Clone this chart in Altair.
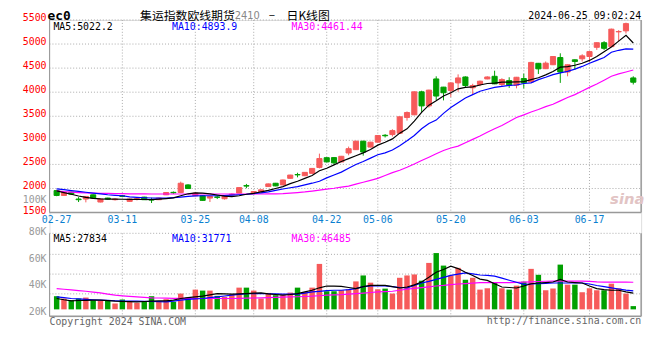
import altair as alt
import pandas as pd

# ---------------- values ----------------
DATE_LABELS = ["02-27", "03-11", "03-25", "04-08", "04-22", "05-06", "05-20", "06-03", "06-17"]
DATE_POS = [0, 9, 19, 27, 37, 44, 54, 64, 73]          # trading-day index of each label

OPEN = [1957, 1855, 1924, 1781, 1781, 1869, 1719, 1801, 1767, 1849,
        1732, 1776, 1821, 1770, 1767, 1869, 1920, 1917, 2074, 1849,
        1849, 1801, 1825, 1787, 1870, 1904, 2060, 1904, 1937, 2040,
        2109, 2074, 2211, 2290, 2265, 2314, 2437, 2640, 2642, 2552,
        2737, 2806, 2983, 2860, 2962, 3105, 3120, 3147, 3475, 3530,
        4008, 3715, 4275, 4105, 4037, 4193, 4316, 4091, 4160, 4275,
        4330, 4160, 4242, 4146, 4283, 4214, 4600, 4488, 4570, 4720,
        4419, 4673, 4693, 4741, 4932, 5028, 4946, 5253, 5274, 4296]
HIGH = [1972, 1937, 1930, 1821, 1840, 1876, 1790, 1808, 1795, 1863,
        1790, 1801, 1828, 1808, 1808, 1924, 1937, 2142, 2088, 1910,
        1856, 1842, 1849, 1840, 1900, 2025, 2095, 1944, 1979, 2102,
        2116, 2184, 2286, 2327, 2342, 2424, 2724, 2647, 2649, 2676,
        2870, 2990, 2990, 2969, 3107, 3130, 3230, 3496, 3600, 4015,
        4030, 4050, 4330, 4110, 4200, 4370, 4330, 4175, 4240, 4330,
        4446, 4290, 4310, 4317, 4385, 4630, 4607, 4638, 4748, 4808,
        4577, 4680, 4788, 4850, 5035, 5060, 5320, 5288, 5444, 4330]
LOW = [1840, 1849, 1870, 1719, 1712, 1794, 1712, 1775, 1750, 1821,
       1725, 1753, 1760, 1699, 1760, 1863, 1890, 1904, 1990, 1840,
       1746, 1719, 1781, 1770, 1849, 1897, 2006, 1897, 1930, 2033,
       2047, 2067, 2204, 2232, 2258, 2307, 2417, 2545, 2500, 2545,
       2690, 2799, 2682, 2853, 2955, 3060, 3080, 3140, 3410, 3523,
       3590, 3680, 3830, 3830, 3900, 4010, 4090, 3955, 4125, 4268,
       4166, 4125, 4090, 4080, 4080, 4207, 4378, 4480, 4563, 4193,
       4330, 4468, 4638, 4624, 4878, 4878, 4940, 5062, 5219, 4160]
CLOSE = [1855, 1924, 1883, 1767, 1835, 1801, 1781, 1781, 1781, 1835,
         1781, 1787, 1767, 1760, 1801, 1917, 1910, 2109, 1999, 1904,
         1753, 1835, 1815, 1835, 1883, 2019, 2050, 1937, 1972, 2095,
         2054, 2177, 2279, 2283, 2335, 2417, 2622, 2552, 2532, 2669,
         2827, 2983, 2757, 2962, 3100, 3095, 3202, 3489, 3578, 4008,
         3715, 4043, 3920, 3988, 4193, 4296, 4139, 4139, 4228, 4316,
         4173, 4262, 4146, 4310, 4193, 4618, 4485, 4603, 4741, 4419,
         4570, 4638, 4755, 4843, 5028, 4911, 5309, 5260, 5424, 4207]
# volume, thousand lots
VOLUME = [22.6, 18.6, 15.8, 18.6, 20.3, 15.8, 14.7, 15.8, 10.2, 16.9,
          13.0, 11.3, 13.0, 22.6, 13.0, 17.5, 13.0, 27.1, 20.3, 33.9,
          32.2, 32.2, 23.2, 21.5, 26.0, 37.3, 37.3, 32.2, 18.6, 28.2,
          24.3, 24.3, 28.8, 37.3, 29.9, 37.3, 78.0, 31.1, 31.1, 32.8,
          34.5, 48.0, 58.2, 45.8, 34.5, 35.6, 27.1, 54.2, 58.2, 59.9,
          49.2, 79.7, 96.6, 75.1, 58.2, 71.2, 50.8, 54.2, 33.9, 36.2,
          45.2, 36.2, 33.9, 40.7, 47.5, 69.5, 59.3, 32.8, 35.6, 76.8,
          42.4, 42.4, 29.4, 36.2, 32.8, 32.8, 44.1, 36.2, 27.1, 5.6]

# moving-average lines as drawn in the picture
MA5 = [1950, 1915, 1880, 1845, 1815, 1795, 1785, 1780, 1778, 1776,
       1775, 1773, 1771, 1770, 1778, 1790, 1805, 1850, 1890, 1910,
       1905, 1890, 1865, 1840, 1830, 1850, 1880, 1900, 1930, 1960,
       2000, 2040, 2100, 2150, 2210, 2270, 2370, 2420, 2490, 2560,
       2620, 2680, 2740, 2810, 2900, 2960, 3030, 3150, 3240, 3400,
       3580, 3730, 3820, 3920, 3990, 4070, 4100, 4110, 4150, 4180,
       4190, 4210, 4210, 4215, 4220, 4260, 4300, 4360, 4430, 4520,
       4530, 4560, 4600, 4660, 4740, 4840, 4940, 5060, 5180, 5022]
MA10 = [1992, 1975, 1957, 1940, 1922, 1905, 1890, 1870, 1858, 1849,
        1825, 1815, 1808, 1803, 1800, 1801, 1810, 1821, 1835, 1845,
        1850, 1850, 1850, 1855, 1863, 1870, 1880, 1895, 1910, 1930,
        1960, 1990, 2015, 2040, 2075, 2110, 2150, 2220, 2280, 2340,
        2420, 2500, 2560, 2630, 2700, 2740, 2800, 2890, 2990, 3100,
        3240, 3350, 3420, 3560, 3680, 3780, 3880, 3950, 4020, 4060,
        4100, 4120, 4140, 4150, 4180, 4193, 4260, 4310, 4365, 4400,
        4433, 4480, 4535, 4600, 4660, 4720, 4830, 4870, 4898, 4894]
MA30 = [1950, 1935, 1925, 1915, 1908, 1903, 1900, 1897, 1894, 1892,
        1890, 1888, 1887, 1886, 1885, 1885, 1885, 1885, 1885, 1885,
        1885, 1885, 1885, 1885, 1885, 1885, 1885, 1885, 1885, 1887,
        1890, 1895, 1905, 1915, 1928, 1945, 1965, 1986, 2005, 2030,
        2050, 2090, 2130, 2170, 2211, 2270, 2330, 2380, 2440, 2510,
        2580, 2650, 2720, 2790, 2840, 2880, 2950, 3020, 3090, 3168,
        3240, 3310, 3390, 3475, 3530, 3590, 3640, 3700, 3750, 3820,
        3890, 3950, 4023, 4100, 4170, 4250, 4330, 4380, 4420, 4461]
VMA5 = [18.6, 16.5, 14.7, 15.2, 15.5, 15.8, 15.8, 15.0, 14.0, 13.5,
        13.2, 13.0, 13.5, 14.0, 14.5, 14.7, 16.0, 18.6, 20.0, 21.5,
        22.6, 25.0, 27.1, 26.5, 26.0, 26.5, 27.1, 27.8, 28.2, 26.5,
        25.5, 24.3, 25.5, 27.1, 30.0, 32.8, 37.0, 40.1, 39.8, 39.5,
        37.5, 35.6, 39.0, 41.2, 41.2, 41.2, 39.0, 36.7, 38.4, 42.0,
        46.9, 55.0, 63.8, 68.4, 74.0, 70.0, 63.8, 58.0, 52.0, 49.7,
        44.0, 38.4, 37.5, 36.7, 40.0, 44.0, 45.2, 46.0, 46.9, 51.4,
        46.9, 46.0, 45.2, 40.0, 35.6, 34.0, 32.8, 32.8, 30.0, 27.8]
VMA10 = [21.5, 20.0, 18.6, 17.9, 17.2, 16.5, 15.8, 15.3, 14.8, 14.4,
         14.1, 14.1, 13.8, 13.5, 13.2, 13.0, 14.0, 15.8, 17.0, 18.0,
         18.6, 20.0, 21.5, 23.0, 24.3, 25.7, 27.1, 27.1, 27.1, 26.8,
         26.5, 26.3, 26.1, 26.0, 28.0, 29.9, 31.0, 32.2, 32.8, 32.8,
         34.0, 35.6, 39.0, 40.1, 40.1, 40.1, 39.0, 37.5, 36.7, 41.0,
         45.2, 48.0, 51.4, 55.0, 58.2, 60.5, 62.7, 61.0, 59.0, 58.2,
         57.1, 53.5, 50.0, 46.5, 42.9, 43.5, 44.1, 44.6, 45.2, 45.2,
         45.2, 45.2, 45.2, 43.5, 41.0, 39.0, 37.0, 35.0, 33.0, 31.8]
VMA30 = [35.6, 34.5, 33.3, 32.2, 31.1, 29.6, 28.2, 26.2, 24.3, 23.3,
         22.4, 21.5, 20.7, 19.8, 19.5, 19.3, 19.0, 18.8, 18.6, 18.6,
         18.6, 18.6, 18.6, 18.6, 18.6, 18.9, 19.2, 19.5, 19.8, 20.2,
         20.6, 20.9, 21.3, 21.7, 22.1, 22.6, 23.4, 24.3, 25.0, 25.4,
         26.3, 27.1, 28.0, 29.0, 29.9, 30.5, 31.1, 32.8, 34.5, 36.0,
         37.3, 38.7, 40.1, 41.2, 42.6, 43.5, 44.3, 45.0, 45.8, 45.8,
         45.8, 45.8, 45.8, 46.3, 46.9, 47.3, 47.8, 48.2, 48.6, 48.6,
         48.6, 48.6, 48.6, 48.0, 47.3, 46.9, 46.9, 46.9, 46.7, 46.5]

PRICE_TICKS = [1500, 2000, 2500, 3000, 3500, 4000, 4500, 5000, 5500]
PRICE_GRID = [2000, 2500, 3000, 3500, 4000, 4500, 5000]
VOL_TICK_LABELS = ["80K", "60K", "40K", "20K"]
VOL_TICK_VALUES = [80, 60, 40, 20]
VOL_GRID = [26.6, 60.5, 94.4]

PRICE_HEAD = ["MA5:5022.2", "MA10:4893.9", "MA30:4461.44"]
VOL_HEAD = ["MA5:27834", "MA10:31771", "MA30:46485"]
TITLE_PARTS = ["集运指数欧线期货", "2410", "–", "日K线图"]
CODE = "ec0"
STAMP = "2024-06-25 09:02:24"
FOOT_LEFT = "Copyright 2024 SINA.COM"
FOOT_RIGHT = "http://finance.sina.com.cn"

# ---------------- tables ----------------
n = len(CLOSE)
idx = list(range(n))
direction = ["up" if c >= o else "down" for o, c in zip(OPEN, CLOSE)]
candles = pd.DataFrame({"i": idx, "o": OPEN, "h": HIGH, "l": LOW, "c": CLOSE, "d": direction})
vols = pd.DataFrame({"i": idx, "v": VOLUME, "d": direction})
ma = pd.DataFrame({"i": idx, "ma5": MA5, "ma10": MA10, "ma30": MA30,
                   "vma5": VMA5, "vma10": VMA10, "vma30": VMA30})
dates = pd.DataFrame({"i": DATE_POS, "t": DATE_LABELS})
grid_dates = dates[dates["i"] > 0]

# ---------------- scales / styles ----------------
W, H = 599, 300
MONO = "DejaVu Sans Mono"
RED, GREEN = "#f65a5a", "#00a000"
GRID = "#aaaaaa"
BORDER = "#999999"

X = alt.Scale(domain=[-0.306, 79.4], nice=False, zero=False)
PY = alt.Scale(domain=[1500, 5500], range=[195, 0], nice=False, zero=False)
VY = alt.Scale(domain=[0, 130.5], range=[293, 216], nice=False)
LY = alt.Scale(domain=[20, 80], range=[295.6, 214.6], nice=False, zero=False)
col = alt.Color("d:N", scale=alt.Scale(domain=["up", "down"], range=[RED, GREEN]), legend=None)

def xq(field):
    return alt.X(field, type="quantitative", scale=X, axis=None)

def one(txt):
    return pd.DataFrame({"t": [txt]})

def label(txt, x, y, color, size=10, align="left", font=MONO, weight="normal",
          baseline="alphabetic", italic=False):
    return alt.Chart(one(txt)).mark_text(
        align=align, baseline=baseline, font=font, fontSize=size, color=color,
        fontWeight=weight, fontStyle="italic" if italic else "normal"
    ).encode(x=alt.value(x), y=alt.value(y), text="t:N")

def hline(y, color, dash=None, width=1):
    kw = dict(color=color, strokeWidth=width)
    if dash:
        kw["strokeDash"] = dash
    return alt.Chart(one("")).mark_rule(**kw).encode(x=alt.value(0), x2=alt.value(W), y=alt.value(y))

def vline(x, y1, y2, color, width=1):
    return alt.Chart(one("")).mark_rule(color=color, strokeWidth=width).encode(
        x=alt.value(x), y=alt.value(y1), y2=alt.value(y2))

layers = []

# grid lines
layers.append(alt.Chart(pd.DataFrame({"p": PRICE_GRID})).mark_rule(color=GRID, strokeDash=[1, 2]).encode(
    y=alt.Y("p:Q", scale=PY, axis=None), x=alt.value(0), x2=alt.value(W)))
layers.append(alt.Chart(grid_dates).mark_rule(color=GRID, strokeDash=[1, 2]).encode(
    x=xq("i"), y=alt.value(0), y2=alt.value(195)))
layers.append(alt.Chart(grid_dates).mark_rule(color=GRID, strokeDash=[1, 2]).encode(
    x=xq("i"), y=alt.value(216), y2=alt.value(303)))
layers.append(alt.Chart(pd.DataFrame({"g": VOL_GRID})).mark_rule(color=GRID, strokeDash=[1, 2]).encode(
    y=alt.Y("g:Q", scale=VY, axis=None), x=alt.value(0), x2=alt.value(W)))

# panel frames
layers += [hline(0, GRID, [1, 2]), hline(195, BORDER, width=1.5),
           vline(0, 0, 195, BORDER), vline(W, 0, 195, BORDER, 1.5),
           hline(216, GRID, [1, 2]), hline(300, BORDER, width=1.5),
           vline(0, 216, 300, BORDER), vline(W, 216, 300, BORDER, 1.5)]

# candles
layers.append(alt.Chart(candles).mark_rule(strokeWidth=1).encode(
    x=xq("i"), y=alt.Y("l:Q", scale=PY, axis=None), y2="h:Q", color=col))
layers.append(alt.Chart(candles).mark_bar(size=5.2, strokeWidth=1).encode(
    x=xq("i"), y=alt.Y("o:Q", scale=PY, axis=None), y2="c:Q", color=col, stroke=col))

# price moving averages
for fld, c in [("ma30", "#ff00ff"), ("ma10", "#0000ff"), ("ma5", "#000000")]:
    layers.append(alt.Chart(ma).mark_line(color=c, strokeWidth=1.2).encode(
        x=xq("i"), y=alt.Y(f"{fld}:Q", scale=PY, axis=None)))

# volume bars and averages
layers.append(alt.Chart(vols).mark_bar(size=5.5).encode(
    x=xq("i"), y=alt.Y("v:Q", scale=VY, axis=None), color=col))
for fld, c in [("vma30", "#ff00ff"), ("vma10", "#0000ff"), ("vma5", "#000000")]:
    layers.append(alt.Chart(ma).mark_line(color=c, strokeWidth=1.2).encode(
        x=xq("i"), y=alt.Y(f"{fld}:Q", scale=VY, axis=None)))

# axis labels
layers.append(alt.Chart(pd.DataFrame({"p": PRICE_TICKS})).mark_text(
    align="right", baseline="middle", font=MONO, fontSize=10, color="#ff0000", dy=-2).encode(
    y=alt.Y("p:Q", scale=PY, axis=None), x=alt.value(-3), text="p:Q"))
layers.append(alt.Chart(dates).mark_text(
    baseline="middle", font=MONO, fontSize=10, color="#0a7fd0").encode(
    x=xq("i"), y=alt.value(203), text="t:N"))
layers.append(alt.Chart(pd.DataFrame({"v": VOL_TICK_VALUES, "t": VOL_TICK_LABELS})).mark_text(
    align="right", baseline="middle", font=MONO, fontSize=10, color="#999999").encode(
    y=alt.Y("v:Q", scale=LY, axis=None), x=alt.value(-3), text="t:N"))
layers.append(label("100K", -3, 182.7, "#999999", align="right", baseline="middle"))

# headers inside panels
for txt, xx, c in zip(PRICE_HEAD, [4, 124, 245], ["#000000", "#0000ff", "#ff00ff"]):
    layers.append(label(txt, xx, 10.5, c))
for txt, xx, c in zip(VOL_HEAD, [4, 124, 245], ["#000000", "#0000ff", "#ff00ff"]):
    layers.append(label(txt, xx, 224.5, c))

# title line
CJK = "Noto Sans CJK SC"
layers.append(label(CODE, -2, 0, "#000000", size=13, weight="bold"))
layers.append(label(TITLE_PARTS[0], 91.7, 0.5, "#000000", size=12, font=CJK))
layers.append(label(TITLE_PARTS[1], 187.5, -0.5, "#888888", size=10, font="DejaVu Sans"))
layers.append(label(TITLE_PARTS[2], 222, -0.5, "#000000", size=12, font=CJK))
layers.append(label(TITLE_PARTS[3], 240, 0.5, "#000000", size=12, font=CJK))
layers.append(label(STAMP, W, -0.5, "#000000", align="right"))

# watermark and footer
layers.append(label("sina", 585, 186, "#e2c4c4", size=15, font="DejaVu Sans", weight="bold", italic=True, align="center"))
layers.append(label(FOOT_LEFT, 0, 309, "#666666", size=10))
layers.append(label(FOOT_RIGHT, W, 308, "#666666", size=10, align="right"))

chart = alt.layer(*layers).resolve_scale(y="independent").properties(
    width=W, height=H,
    autosize=alt.AutoSizeParams(type="none"),
    padding={"left": 42, "top": 10, "right": 11, "bottom": 30},
).configure_view(stroke=None).configure(background="white")

chart.save("out.html", embed_options={"renderer": "svg", "actions": False})
